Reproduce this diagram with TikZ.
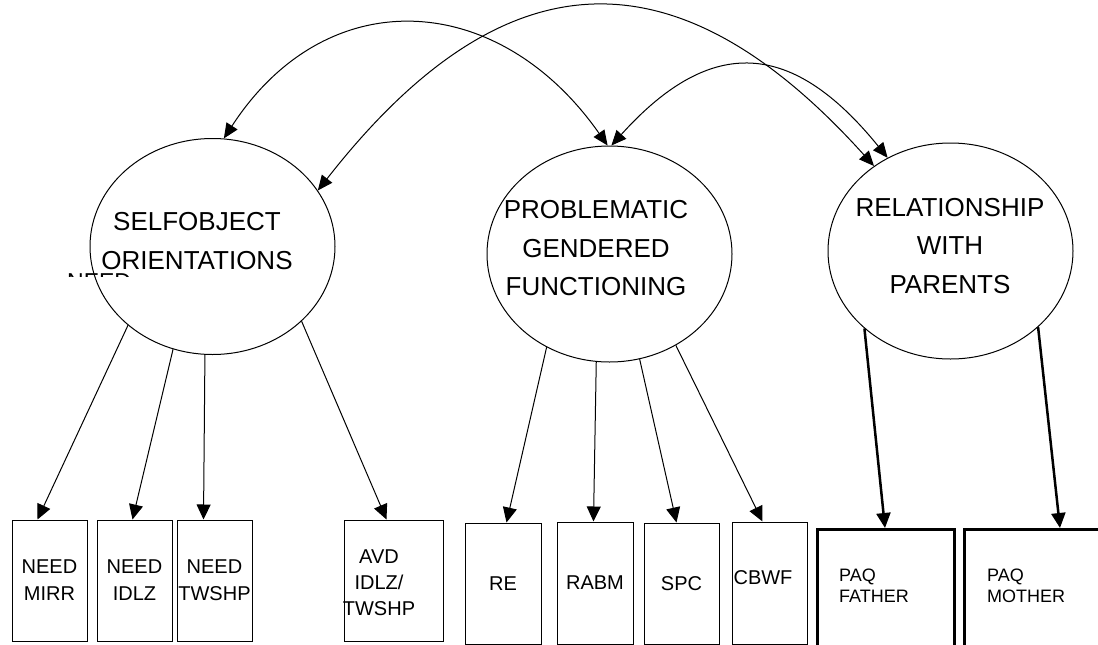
\documentclass[tikz,border=0pt]{standalone}
\usepackage{fontspec}
\setmainfont{Liberation Sans}
\usetikzlibrary{shapes.geometric, arrows.meta}

\begin{document}
\begin{tikzpicture}[x=1pt, y=1pt,
    latent/.style={draw, ellipse, line width=1pt, minimum width=245pt, minimum height=216pt, inner sep=0pt},
    bigtxt/.style={align=center, inner sep=0pt, font=\fontsize{26}{38.5}\selectfont},
    obs/.style={draw, line width=1pt, minimum width=75pt, minimum height=121pt, inner sep=0pt, align=center, font=\fontsize{20}{27}\selectfont},
    obstxt/.style={align=center, inner sep=0pt, font=\fontsize{20}{26}\selectfont},
    paq/.style={draw, line width=2.5pt, minimum width=137pt, minimum height=140pt, anchor=north west},
    paqtxt/.style={align=left, anchor=west, inner sep=0pt, font=\fontsize{18}{21}\selectfont},
    load/.style={-{Triangle[length=15pt, width=14pt]}, line width=1pt},
    cov/.style={{Triangle[length=15pt, width=13pt]}-{Triangle[length=15pt, width=13pt]}, line width=1pt}]

    \clip (0,0) rectangle (1098,-645);

    % latent variables
    \node[latent] (so) at (212.5,-246.5) {};
    \node[latent] (pg) at (609.5,-254) {};
    \node[latent] (rp) at (950.5,-251) {};
    \node[bigtxt] (sot) at (197,-241) {SELFOBJECT\\ORIENTATIONS};
    \node[bigtxt] (pgt) at (596,-248.5) {PROBLEMATIC\\GENDERED\\FUNCTIONING};
    \node[bigtxt] (rpt) at (950,-246) {RELATIONSHIP\\WITH\\PARENTS};

    % clipped leftover text
    \begin{scope}
      \clip (60,-271.5) rectangle (140,-276.5);
      \node[anchor=base west, inner sep=0pt, font=\fontsize{23}{23}\selectfont] (ghost) at (67,-289.5) {NEED};
    \end{scope}

    % observed variables
    \node[obs] (b1) at (49.5,-580.5) {NEED\\MIRR};
    \node[obs] (b2) at (134.5,-580.5) {NEED\\IDLZ};
    \node[obs] (b3) at (214.5,-580.5) {NEED\\TWSHP};
    \node[obs, minimum width=99pt] (b4) at (393.5,-580.5) {};
    \node[obstxt] (b4t) at (379,-583) {AVD\\IDLZ/\\TWSHP};
    \node[obs, minimum width=76pt] (re) at (503,-583.5) {RE};
    \node[obs, minimum width=76pt, minimum height=122pt] (rabm) at (595,-583) {RABM};
    \node[obs] (spc) at (681.5,-583.5) {SPC};
    \node[obs, minimum height=122pt] (cbwf) at (769.5,-583) {};
    \node[obstxt] (cbwft) at (763,-578) {CBWF};
    \node[paq] (fa) at (816,-528) {};
    \node[paq, minimum width=150pt] (mo) at (963,-528) {};
    \node[paqtxt] (fat) at (839,-585.5) {PAQ\\FATHER};
    \node[paqtxt] (mot) at (987,-585.5) {PAQ\\MOTHER};

    % loadings
    \draw[load] (so.223) -- ([xshift=26pt]b1.north west);
    \draw[load] (so.249) -- ([xshift=36pt]b2.north west);
    \draw[load] (so.266) -- ([xshift=27pt]b3.north west);
    \draw[load] (so.320) -- ([xshift=43pt]b4.north west);
    \draw[load] (pg.236) -- ([xshift=42pt]re.north west);
    \draw[load] (pg.263) -- ([xshift=37pt]rabm.north west);
    \draw[load] (pg.286) -- ([xshift=33pt]spc.north west);
    \draw[load] (pg.306) -- ([xshift=31pt]cbwf.north west);
    \draw[load, line width=2.5pt] (rp.222) -- ([xshift=69pt]fa.north west);
    \draw[load, line width=2.5pt] (rp.319) -- ([xshift=97pt]mo.north west);

    % covariances
    \draw[cov] (so.84) to[out=57, in=125, looseness=1.26] (pg.91);
    \draw[cov] (so.28) to[out=52, in=132, looseness=1.37] (rp.132);
    \draw[cov] (pg.89) to[out=48, in=129, looseness=1.39] (rp.124);
\end{tikzpicture}
\end{document}
